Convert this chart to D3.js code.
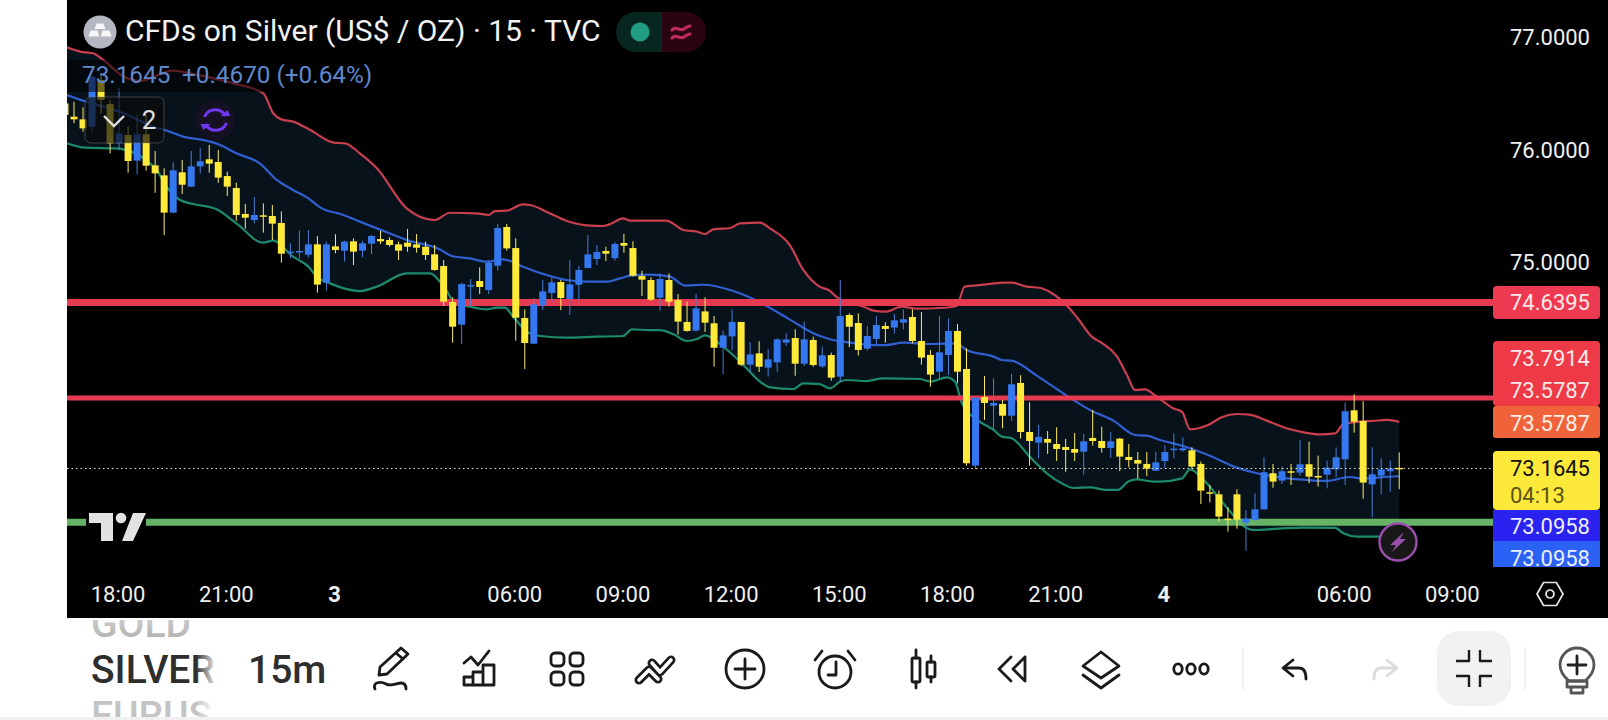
<!DOCTYPE html>
<html>
<head>
<meta charset="utf-8">
<title>CFDs on Silver 15m</title>
<script src="https://cdnjs.cloudflare.com/ajax/libs/d3/7.8.5/d3.min.js"></script>
<style>
  html, body { margin: 0; padding: 0; background: #fff; overflow: hidden; }
  svg { display: block; font-family: Roboto, sans-serif; }
</style>
</head>
<body>
<svg id="chart" width="1608" height="720"></svg>
<script>
// 15 minute candles, oldest first
const opens = [
  76.410,76.292,76.268,76.203,76.618,76.404,76.055,76.129,75.901,76.135,
  75.859,75.770,75.439,75.797,75.670,75.850,75.913,75.889,75.764,75.658,
  75.427,75.373,75.415,75.409,75.347,75.086,75.092,75.065,75.157,74.816,
  75.139,75.101,75.184,75.101,75.163,75.204,75.196,75.157,75.172,75.157,
  75.136,75.068,74.964,74.644,74.443,74.790,74.831,74.751,74.967,75.311,
  75.124,74.502,74.274,74.615,74.724,74.822,74.671,74.798,74.947,75.027,
  75.098,75.035,75.169,75.124,74.875,74.840,74.683,74.840,74.662,74.467,
  74.390,74.561,74.455,74.238,74.339,74.467,74.087,74.188,74.061,74.108,
  74.283,74.324,74.096,74.307,74.072,74.173,73.981,74.529,74.458,74.230,
  74.316,74.431,74.417,74.461,74.511,74.298,74.174,74.025,74.174,74.387,
  74.049,73.190,73.800,73.723,73.738,73.634,73.925,73.489,73.394,73.427,
  73.382,73.356,73.338,73.314,73.436,73.409,73.347,73.430,73.267,73.240,
  73.205,73.145,73.231,73.335,73.326,73.326,73.205,72.953,72.935,72.719,
  72.935,72.683,72.707,72.802,73.122,73.057,73.140,73.128,73.202,73.098,
  73.110,73.157,73.246,73.682,73.587,73.024,73.101,73.140,73.170
];
const closes = [
  76.307,76.268,76.188,76.647,76.440,76.055,76.144,75.898,76.135,75.856,
  75.788,75.439,75.815,75.687,75.850,75.895,75.874,75.750,75.670,75.418,
  75.394,75.418,75.403,75.341,75.074,75.092,75.098,75.157,74.799,75.157,
  75.107,75.181,75.092,75.166,75.231,75.184,75.151,75.101,75.136,75.127,
  75.062,74.929,74.647,74.425,74.804,74.795,74.778,74.994,75.302,75.121,
  74.505,74.280,74.624,74.739,74.819,74.680,74.801,74.929,75.068,75.089,
  75.074,75.160,75.145,74.878,74.843,74.665,74.849,74.647,74.470,74.387,
  74.588,74.461,74.238,74.348,74.467,74.087,74.179,74.069,74.135,74.312,
  74.312,74.096,74.312,74.084,74.170,73.972,74.520,74.425,74.218,74.342,
  74.440,74.405,74.482,74.491,74.298,74.150,73.999,74.197,74.387,74.025,
  73.211,73.794,73.747,73.747,73.634,73.913,73.489,73.409,73.445,73.394,
  73.338,73.329,73.305,73.406,73.409,73.347,73.406,73.270,73.240,73.208,
  73.163,73.219,73.311,73.341,73.344,73.181,72.968,72.947,72.737,72.710,
  72.710,72.719,72.802,73.131,73.048,73.140,73.134,73.202,73.092,73.092,
  73.172,73.264,73.673,73.581,73.039,73.113,73.157,73.166,73.1645
];
const highs = [
  76.440,76.425,76.375,76.662,76.677,76.440,76.553,76.203,76.307,76.307,
  75.987,75.833,75.886,75.907,75.987,76.010,76.040,75.996,75.803,75.705,
  75.516,75.578,75.521,75.507,75.450,75.166,75.278,75.284,75.231,75.181,
  75.246,75.190,75.210,75.190,75.240,75.276,75.219,75.181,75.293,75.249,
  75.181,75.151,75.018,74.686,74.816,74.849,74.952,75.012,75.338,75.338,
  75.210,74.579,74.677,74.840,74.864,74.840,75.018,74.964,75.240,75.151,
  75.136,75.178,75.249,75.184,74.923,74.864,74.899,74.899,74.715,74.647,
  74.715,74.686,74.520,74.390,74.579,74.467,74.289,74.295,74.227,74.321,
  74.366,74.401,74.470,74.336,74.247,74.194,74.840,74.544,74.544,74.431,
  74.520,74.464,74.538,74.579,74.579,74.556,74.218,74.520,74.499,74.449,
  74.233,73.809,73.987,73.966,73.774,74.005,73.993,73.753,73.551,73.498,
  73.531,73.427,73.480,73.471,73.685,73.536,73.486,73.436,73.382,73.311,
  73.311,73.314,73.371,73.477,73.442,73.353,73.226,73.018,72.968,72.820,
  72.980,72.796,72.944,73.264,73.205,73.181,73.205,73.418,73.403,73.279,
  73.234,73.353,73.750,73.824,73.762,73.353,73.255,73.234,73.308
];
const lows = [
  76.218,76.233,76.159,76.144,76.321,75.966,75.996,75.794,75.779,75.812,
  75.616,75.240,75.433,75.604,75.670,75.788,75.794,75.705,75.587,75.367,
  75.296,75.344,75.261,75.196,74.994,75.033,75.033,75.041,74.727,74.745,
  75.077,75.003,74.973,75.041,75.071,75.160,75.136,75.018,75.092,75.083,
  75.018,74.923,74.609,74.283,74.271,74.609,74.715,74.715,74.923,75.101,
  74.301,74.049,74.271,74.573,74.638,74.573,74.529,74.662,74.944,74.973,
  75.009,75.012,75.083,74.872,74.698,74.656,74.567,74.603,74.354,74.381,
  74.384,74.378,74.069,74.004,74.218,74.075,74.022,74.022,73.981,74.025,
  74.253,73.989,74.075,74.069,74.055,73.945,73.937,74.242,74.168,74.212,
  74.271,74.283,74.366,74.402,74.277,74.088,73.892,73.951,73.996,73.922,
  73.190,73.157,73.596,73.507,73.522,73.587,73.430,73.190,73.255,73.294,
  73.231,73.136,73.231,73.110,73.368,73.305,73.258,73.142,73.175,73.074,
  73.098,73.145,73.166,73.255,73.314,73.163,72.849,72.864,72.692,72.603,
  72.630,72.434,72.701,72.796,72.994,73.027,73.018,73.098,73.033,73.003,
  72.988,73.086,73.018,73.483,72.897,72.731,72.935,72.959,72.980
];

// Bollinger bands, listed as bar position and price at each bend of the line
const upperBar = [
  0.2,1.7,3.1,4.25,6.5,8.3,12,13.5,15.7,18.7,22,23.1,24,25.3,27.2,29.8,31.05,32.7,34.6,37.9,
  41,42.7,45.67,47,47.7,49,50.8,51.6,53.4,55.6,57.9,59.7,60.5,61.9,62.7,66.7,68.6,70.1,71,71.9,
  73.8,74.9,77.1,78.2,80.4,81.9,83.7,84.7,85.8,88.6,89.7,91,92.8,94.5,97.06,98.9,99.8,101.1,102.6,104.1,
  105,106.7,108.2,109.3,110.7,112.2,113.9,115.2,116.7,117.8,118.7,119.8,121.1,122.9,123.9,124.8,126.8,128.3,130,131.4,
  133.3,135.5,137.4,139.2,140.9,141.8,143.6,145.1,146.6,148
];
const upperPrice = [
  76.908,76.870,76.855,76.796,76.648,76.609,76.701,76.683,76.648,76.588,76.499,76.322,76.268,76.248,76.173,76.061,76.055,75.966,75.833,75.477,
  75.373,75.438,75.432,75.418,75.453,75.456,75.512,75.507,75.447,75.367,75.326,75.320,75.338,75.388,75.367,75.367,75.284,75.270,75.249,75.290,
  75.302,75.344,75.350,75.299,75.151,74.929,74.781,74.751,74.677,74.603,74.568,74.559,74.603,74.585,74.591,74.609,74.781,74.793,74.805,74.817,
  74.817,74.781,74.769,74.731,74.648,74.514,74.337,74.271,74.159,73.996,73.862,73.868,73.803,73.700,73.670,73.513,73.551,73.620,73.649,73.643,
  73.590,73.522,73.486,73.468,73.477,73.560,73.581,73.587,73.596,73.5787
];
const basisBar = [
  0.2,2.4,4.25,6.5,9.8,11.6,13.1,15.3,17.2,19,21.6,23.5,25.3,27,28.3,30.9,32.7,34.6,37.9,41.6,
  42.9,44.9,46.8,48.6,50.8,53.06,55.6,57.9,60.1,61.56,62.9,64.9,67.1,68.8,70.8,73.8,76.35,78.6,80.8,83,
  84.86,87.1,89.7,91,93,96,98.9,100,103,103.9,105,107.8,110.7,113.7,116.3,118.7,120,121.46,124,126.8,
  130,132.55,134.8,137.7,139.9,142.5,144,145.9,148
];
const basisPrice = [
  76.485,76.425,76.381,76.322,76.203,76.159,76.114,76.085,76.040,75.966,75.877,75.729,75.640,75.566,75.486,75.418,75.359,75.299,75.196,75.112,
  75.053,75.032,75.003,75.024,74.958,74.893,74.840,74.825,74.825,74.855,74.881,74.887,74.870,74.790,74.798,74.751,74.671,74.573,74.470,74.366,
  74.313,74.283,74.262,74.262,74.283,74.271,74.277,74.218,74.159,74.129,74.123,73.990,73.833,73.685,73.590,73.462,73.456,73.418,73.365,73.285,
  73.172,73.116,73.086,73.063,73.054,73.089,73.074,73.086,73.0958
];
const lowerBar = [
  0.2,2.2,5.7,10.2,10.9,12.75,14.2,16.8,19,22,23.1,25.3,27,27.9,29.4,32.7,34.6,37.9,40.5,41.6,
  42.3,43.1,44.9,46.8,47.9,48.8,49.7,51.4,52.7,55.6,59,61.9,62.9,64.9,66,67.5,69,70.1,71,73,
  74.3,75.6,77.1,78.2,80.8,81.9,83.7,84.86,86,86.7,88.9,90.8,94.8,96,97.8,98.7,99.5,101.3,103,103.9,
  105,107,108.9,110.7,111.85,113.7,115.5,116.8,117.95,118.9,120.7,121.46,123.9,124.8,126.3,127.9,129.4,130.7,131.8,135.1,
  137.4,140.9,141.8,143.3,145.5,148
];
const lowerPrice = [
  76.055,76.016,76.010,75.818,75.714,75.551,75.516,75.468,75.344,75.172,75.190,75.047,74.959,74.870,74.810,74.742,74.781,74.899,74.899,74.825,
  74.751,74.647,74.603,74.579,74.594,74.594,74.514,74.372,74.342,74.327,74.336,74.342,74.401,74.395,74.395,74.357,74.298,74.315,74.348,74.247,
  74.158,74.055,73.936,73.886,73.871,73.921,73.915,73.877,73.937,73.951,73.942,73.966,73.960,73.937,73.975,73.937,73.744,73.590,73.507,73.448,
  73.433,73.270,73.122,73.027,72.991,72.997,72.974,72.974,73.048,73.068,73.048,73.048,73.077,73.157,73.063,72.914,72.766,72.654,72.618,72.633,
  72.639,72.636,72.588,72.559,72.559,72.560
];

// Horizontal levels drawn by hand on the chart
const levelPrices = [74.6395, 73.7914, 72.686];
const levelColors = ["#e63a50", "#e63a50", "#66b266"];
const levelWidths = [7, 5, 7];

// Axis labels
const priceTicks = [77, 76, 75];
const timeBars = [6, 18, 30, 50, 62, 74, 86, 98, 110, 122, 142, 154];
const timeLabels = ["18:00", "21:00", "3", "06:00", "09:00", "12:00", "15:00", "18:00", "21:00", "4", "06:00", "09:00"];

// Price tags stacked on the right edge
const tagTexts = ["74.6395", "73.7914", "73.5787", "73.5787", "73.1645", "04:13", "73.0958", "73.0958"];

const lastPrice = closes[closes.length - 1];

const svg = d3.select("#chart");
const defs = svg.append("defs");

const x = d3.scaleLinear().domain([0, 154]).range([65, 65 + 154 * 9.015]);
const y = d3.scaleLinear().domain([77, 75]).range([37, 262]);

// Page and chart panel
svg.append("rect").attr("width", 1608).attr("height", 720).attr("fill", "#fff");
svg.append("rect").attr("x", 67).attr("width", 1541).attr("height", 618).attr("fill", "#000");
svg.append("rect").attr("y", 717).attr("width", 1608).attr("height", 3).attr("fill", "#f1f1f1");

defs.append("clipPath").attr("id", "pane").append("rect")
  .attr("x", 67).attr("y", 0).attr("width", 1426).attr("height", 570);

const pane = svg.append("g").attr("clip-path", "url(#pane)");

// Band fill and band lines
const zipBand = (bars, prices) => bars.map((b, i) => [b, prices[i]]);
const upperPts = zipBand(upperBar, upperPrice);
const basisPts = zipBand(basisBar, basisPrice);
const lowerPts = zipBand(lowerBar, lowerPrice);
const bandLine = d3.line().x(d => x(d[0])).y(d => y(d[1])).curve(d3.curveMonotoneX);

const bandArea = d3.line().x(d => x(d[0])).y(d => y(d[1]));
pane.append("path")
  .attr("d", bandArea(upperPts.concat(lowerPts.slice().reverse())) + "Z")
  .attr("fill", "#07121b");

[[upperPts, "#c93f4d"], [basisPts, "#2f5fd0"], [lowerPts, "#1d8a6c"]].forEach(([pts, color]) => {
  pane.append("path").attr("d", bandLine(pts))
    .attr("fill", "none").attr("stroke", color).attr("stroke-width", 2.2);
});

// Horizontal levels
pane.selectAll("line.level").data(levelPrices).join("line")
  .attr("class", "level")
  .attr("x1", 67).attr("x2", 1493)
  .attr("y1", d => y(d)).attr("y2", d => y(d))
  .attr("stroke", (d, i) => levelColors[i])
  .attr("stroke-width", (d, i) => levelWidths[i]);

// Candles: blue closes higher, yellow closes lower
const candles = d3.range(opens.length).map(i => ({
  i, o: opens[i], c: closes[i], h: highs[i], l: lows[i]
}));
const upBody = "#3577ee", downBody = "#ffe93b";
const upWick = "#4a7ed8", downWick = "#ffee66";

pane.selectAll("line.wick").data(candles).join("line")
  .attr("class", "wick")
  .attr("x1", d => x(d.i)).attr("x2", d => x(d.i))
  .attr("y1", d => y(d.h)).attr("y2", d => y(d.l))
  .attr("stroke", d => d.c >= d.o ? upWick : downWick)
  .attr("stroke-width", 1);

pane.selectAll("rect.body").data(candles).join("rect")
  .attr("class", "body")
  .attr("x", d => x(d.i) - 3.5)
  .attr("width", 7)
  .attr("y", d => y(Math.max(d.o, d.c)))
  .attr("height", d => Math.max(1.5, Math.abs(y(d.o) - y(d.c))))
  .attr("fill", d => d.c >= d.o ? upBody : downBody);

// Last price line
pane.append("line")
  .attr("x1", 67).attr("x2", 1493)
  .attr("y1", y(lastPrice)).attr("y2", y(lastPrice))
  .attr("stroke", "#e8e6c8").attr("stroke-width", 1).attr("stroke-dasharray", "1.5 3");

// Price axis labels
const priceAxis = d3.axisRight(y).tickValues(priceTicks).tickFormat(d3.format(".4f")).tickSize(0).tickPadding(0);
svg.append("g").attr("transform", "translate(1590,0)").call(priceAxis)
  .call(g => g.select(".domain").remove())
  .call(g => g.selectAll("text")
    .attr("text-anchor", "end").attr("dy", "0.36em")
    .attr("fill", "#f0f0f0").style("font-size", "22px").style("font-family", "Roboto"));

// Time axis labels
const timeAxis = d3.axisBottom(x).tickValues(timeBars)
  .tickFormat((d, i) => timeLabels[i]).tickSize(0).tickPadding(0);
svg.append("g").attr("transform", "translate(-1.5,586)").call(timeAxis)
  .call(g => g.select(".domain").remove())
  .call(g => g.selectAll("text")
    .attr("dy", "0.71em")
    .attr("fill", "#f0f0f0").style("font-size", "22px").style("font-family", "Roboto")
    .style("font-weight", (d, i) => /:/.test(timeLabels[i]) ? 400 : 700));

// Tag stack on the price scale
const tagRect = (top, bottom, fill, r) => svg.append("rect")
  .attr("x", 1493).attr("width", 107).attr("y", top).attr("height", bottom - top)
  .attr("rx", r).attr("fill", fill);
const tagText = (txt, cy, fill) => svg.append("text")
  .attr("x", 1590).attr("y", cy).attr("dy", "0.36em")
  .attr("text-anchor", "end").attr("fill", fill)
  .style("font-size", "22px").text(txt);

tagRect(286, 319, "#ee3a50", 4);
tagText(tagTexts[0], y(levelPrices[0]), "#fbe9ea");
tagRect(341, 406, "#ee3a46", 4);
tagText(tagTexts[1], 358, "#fbe9ea");
tagText(tagTexts[2], 390, "#fbe9ea");
tagRect(406, 438, "#f0623a", 3);
tagText(tagTexts[3], 423, "#fdeee6");
tagRect(451, 510, "#fde93a", 4);
tagText(tagTexts[4], y(lastPrice), "#111");
svg.append("text").attr("x", 1510).attr("y", 495).attr("dy", "0.36em")
  .attr("fill", "#5a5518").style("font-size", "22px").text(tagTexts[5]);
tagRect(510, 541, "#2a22ef", 0);
tagText(tagTexts[6], 526, "#eef");
defs.append("clipPath").attr("id", "tagClip").append("rect")
  .attr("x", 1493).attr("y", 541).attr("width", 107).attr("height", 26);
svg.append("g").attr("clip-path", "url(#tagClip)").call(g => {
  g.append("rect").attr("x", 1493).attr("y", 541).attr("width", 107).attr("height", 26).attr("fill", "#2962f5");
  g.append("text").attr("x", 1590).attr("y", 558).attr("dy", "0.36em")
    .attr("text-anchor", "end").attr("fill", "#eef").style("font-size", "22px").text(tagTexts[7]);
});

// Legend header
svg.append("rect").attr("x", 67).attr("y", 60).attr("width", 320).attr("height", 32).attr("fill", "rgba(0,0,0,0.55)");

const gold = svg.append("g").attr("transform", "translate(100,32)");
gold.append("circle").attr("r", 16.5).attr("fill", "#b4b6c0");
gold.append("path")
  .attr("d", "M-3.5 -8.5H3.5L5.5 -3H-5.5Z M-9.5 -1.5H-2.5L-0.7 4.5H-11.7Z M2.5 -1.5H9.5L11.7 4.5H0.7Z")
  .attr("fill", "#f6f6f8");

svg.append("text").attr("x", 125).attr("y", 41).attr("fill", "#f2f2f2")
  .style("font-size", "30px").text("CFDs on Silver (US$ / OZ) · 15 · TVC");

// Session status pills
svg.append("path").attr("d", "M662 12H636A20 20 0 0 0 636 52H662Z").attr("fill", "#06261f");
svg.append("path").attr("d", "M662 12H686A20 20 0 0 1 686 52H662Z").attr("fill", "#2a0412");
svg.append("circle").attr("cx", 640).attr("cy", 32).attr("r", 9.5).attr("fill", "#1f9e84");
svg.append("path")
  .attr("d", "M672 30C676 25 680 32 684 29S689 26 690 26 M672 38C676 33 680 40 684 37S689 34 690 34")
  .attr("fill", "none").attr("stroke", "#bd2a5e").attr("stroke-width", 3.2).attr("stroke-linecap", "round");

svg.append("text").attr("x", 82).attr("y", 83).attr("fill", "#5f88cc")
  .style("font-size", "24.3px").text("73.1645");
svg.append("text").attr("x", 182).attr("y", 83).attr("fill", "#5f88cc")
  .style("font-size", "24.3px").text("+0.4670 (+0.64%)");

// Collapsed indicators box
svg.append("rect").attr("x", 85).attr("y", 97).attr("width", 79).attr("height", 46).attr("rx", 6)
  .attr("fill", "rgba(12,12,12,0.68)").attr("stroke", "rgba(130,130,130,0.45)");
svg.append("path").attr("d", "M104 116L114 126 124 116").attr("fill", "none")
  .attr("stroke", "#e4e4e4").attr("stroke-width", 2.4);
svg.append("text").attr("x", 149).attr("y", 120).attr("dy", "0.36em").attr("text-anchor", "middle")
  .attr("fill", "#e0e0e0").style("font-size", "26px").text("2");

// Sync badge
const sync = svg.append("g").attr("transform", "translate(215.5,120)");
sync.append("circle").attr("r", 20).attr("fill", "#161023");
sync.append("path").attr("d", "M-11 -3A11.5 11.5 0 0 1 10 -4 M11 3A11.5 11.5 0 0 1 -10 4")
  .attr("fill", "none").attr("stroke", "#6f37ee").attr("stroke-width", 3);
sync.append("path").attr("d", "M5 -4H15L12 -10Z M-5 4H-15L-12 10Z").attr("fill", "#6f37ee");

// Watermark logo
svg.append("rect").attr("x", 86).attr("y", 510).attr("width", 60).attr("height", 34).attr("fill", "#000");
svg.append("path").attr("d", "M89 513H113V541H101V523H89Z M133 513H146L133 541H122Z").attr("fill", "#e2e2e2");
svg.append("circle").attr("cx", 121).attr("cy", 518).attr("r", 5.3).attr("fill", "#e2e2e2");

// Flash badge
const flash = svg.append("g").attr("transform", "translate(1398,542)");
flash.append("circle").attr("r", 18.5).attr("fill", "#171717").attr("stroke", "#9a4fae").attr("stroke-width", 2.4);
flash.append("path").attr("d", "M6 -10L-8 3H-2L-6 10 8 -3H2Z").attr("fill", "#9a4fae");

// Scale settings hexagon
const hex = svg.append("g").attr("transform", "translate(1550,594)");
hex.append("path").attr("d", "M-13 0L-6.5 -11.5H6.5L13 0 6.5 11.5H-6.5Z").attr("fill", "none").attr("stroke", "#e8e8e8").attr("stroke-width", 1.7);
hex.append("circle").attr("r", 4).attr("fill", "none").attr("stroke", "#e8e8e8").attr("stroke-width", 1.7);

// Toolbar: symbol picker
const soft = defs.append("linearGradient").attr("id", "symSoft").attr("x2", 0).attr("y2", 1);
soft.append("stop").attr("offset", "0").attr("stop-color", "#e2e2e2");
soft.append("stop").attr("offset", "1").attr("stop-color", "#a8a8a8");
const veil = defs.append("linearGradient").attr("id", "symVeil");
veil.append("stop").attr("offset", "0").attr("stop-color", "#fff").attr("stop-opacity", 0);
veil.append("stop").attr("offset", "1").attr("stop-color", "#fff").attr("stop-opacity", 1);
defs.append("clipPath").attr("id", "symClip").append("rect").attr("x", 91).attr("y", 620).attr("width", 125).attr("height", 97);
const sym = svg.append("g").attr("clip-path", "url(#symClip)")
  .style("font-size", "39px").style("font-weight", 500);
sym.append("text").attr("x", 91).attr("y", 637).attr("fill", "url(#symSoft)").text("GOLD");
sym.append("text").attr("x", 91).attr("y", 683).attr("fill", "#2e2e2e").text("SILVER");
sym.append("text").attr("x", 91).attr("y", 729).attr("fill", "#c4c4c4").text("EURUSD");
svg.append("rect").attr("x", 196).attr("y", 620).attr("width", 21).attr("height", 97).attr("fill", "url(#symVeil)");
svg.append("text").attr("x", 248).attr("y", 683).attr("fill", "#2e2e2e")
  .style("font-size", "39px").style("font-weight", 500).text("15m");

// Toolbar: tool icons
const tool = (cx, color) => svg.append("g").attr("transform", `translate(${cx},669)`)
  .attr("fill", "none").attr("stroke", color || "#1a1a1a").attr("stroke-width", 2.8)
  .attr("stroke-linecap", "round").attr("stroke-linejoin", "round");

tool(391).call(g => {
  g.append("path").attr("d", "M-12 6L-11 -2 10 -21 17 -15 -4 5Z M5 -16L12 -10");
  g.append("path").attr("d", "M-16 20C-19 13 -10 12 -5 15S6 14 10 14 15 17 15 20");
});
tool(479).call(g => {
  g.append("path").attr("d", "M-15 -6L-8 -12 -1 -4 10 -18");
  g.append("path").attr("d", "M-15 16V8H-6V16Z M-6 16V3H4V16Z M4 16V-4H15V16Z");
});
tool(567).call(g => {
  [[-16, -16], [3, -16], [-16, 3], [3, 3]].forEach(([a, b]) =>
    g.append("rect").attr("x", a).attr("y", b).attr("width", 13).attr("height", 13).attr("rx", 4));
});
tool(656).call(g => {
  g.append("path").attr("d", "M-17 11L-7 1 2 10 M-4 -6L4 3 15 -9").attr("stroke-width", 9);
  g.append("path").attr("d", "M-17 11L-7 1 2 10 M-4 -6L4 3 15 -9").attr("stroke", "#fff").attr("stroke-width", 3.6);
});
tool(745).call(g => {
  g.append("circle").attr("r", 19);
  g.append("path").attr("d", "M0 -10V10 M-10 0H10");
});
tool(835).call(g => {
  g.append("circle").attr("cy", 3).attr("r", 16);
  g.append("path").attr("d", "M1 -7V6H-7 M-20 -9L-13 -18 M20 -9L13 -18");
});
tool(924).call(g => {
  g.append("rect").attr("x", -12).attr("y", -11).attr("width", 8).attr("height", 24).attr("rx", 1.5);
  g.append("rect").attr("x", 3).attr("y", -7).attr("width", 8).attr("height", 15).attr("rx", 1.5);
  g.append("path").attr("d", "M-8 -19V-11 M-8 13V19 M7 -13V-7 M7 8V13");
});
tool(1012).call(g => {
  g.append("path").attr("d", "M-1 -12L-13 0 -1 12 M13 -12L1 0 13 12V-12");
});
tool(1101).call(g => {
  g.append("path").attr("d", "M0 -17L18 -3 0 9 -18 -3Z M-18 6L0 19 18 6");
});
tool(1191).call(g => {
  [-13, 0, 13].forEach(c => g.append("ellipse").attr("cx", c).attr("rx", 4.2).attr("ry", 5.2));
});
tool(1295).call(g => {
  g.append("path").attr("d", "M-2 -9L-12 -1 -2 7 M-11 -1H4C9 -1 11 3 11 10");
});
tool(1385, "#dcdcdc").call(g => {
  g.append("path").attr("d", "M2 -9L12 -1 2 7 M11 -1H-4C-9 -1 -11 3 -11 10");
});
svg.append("rect").attr("x", 1437).attr("y", 631).attr("width", 74).attr("height", 75).attr("rx", 22).attr("fill", "#f1f1f1");
tool(1474).call(g => {
  g.attr("stroke-width", 2.4).attr("stroke-linecap", "butt");
  g.append("path").attr("d", "M-5 -19V-8H-18 M6 -19V-8H18 M-18 7H-5V18 M18 7H6V18");
});
svg.append("line").attr("x1", 1243).attr("x2", 1243).attr("y1", 647).attr("y2", 690).attr("stroke", "#ececec").attr("stroke-width", 1.5);
svg.append("line").attr("x1", 1525).attr("x2", 1525).attr("y1", 647).attr("y2", 690).attr("stroke", "#ececec").attr("stroke-width", 1.5);
tool(1577).call(g => {
  g.append("path").attr("d", "M-8 12C-15 6 -17 1 -17 -4A17 17 0 0 1 17 -4C17 1 15 6 8 12Z").attr("stroke", "#555");
  g.append("path").attr("d", "M0 -13V5 M-9 -4H9").attr("stroke", "#222");
  g.append("path").attr("d", "M-10 12H10V18H-10Z M-6 18H6V24H-6Z").attr("stroke", "#555");
});
</script>
</body>
</html>
